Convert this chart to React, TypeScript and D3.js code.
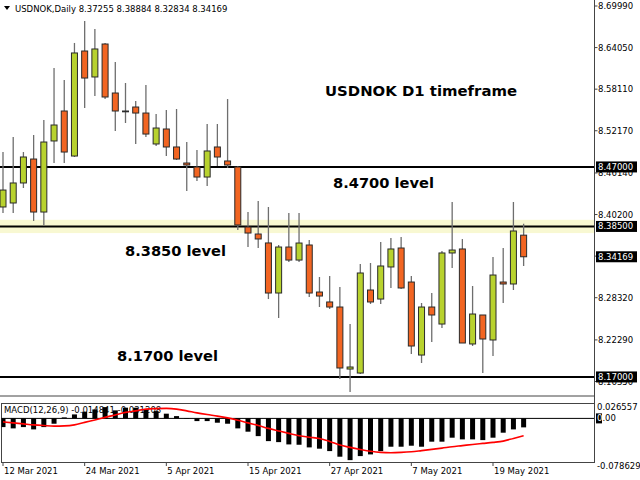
import React from "react";
import * as d3 from "d3";

const openP = [8.4128,8.4185,8.4471,8.4813,8.4056,8.5071,8.5499,8.4856,8.6356,8.5985,8.6456,8.5756,8.5499,8.5556,8.5470,8.5028,8.5242,8.4985,8.4756,8.4699,8.4556,8.4985,8.4785,8.4699,8.3842,8.3742,8.3614,8.2899,8.3556,8.3370,8.3585,8.2913,8.2771,8.2699,8.1813,8.1756,8.2942,8.2813,8.3271,8.3542,8.3056,8.2013,8.2699,8.2456,8.3471,8.3528,8.2171,8.2585,8.2228,8.3056,8.3028,8.37255];
const highP = [8.4913,8.5128,8.4913,8.5156,8.5370,8.6113,8.5942,8.6471,8.6785,8.6670,8.6471,8.6199,8.5899,8.5642,8.5870,8.5456,8.5513,8.5528,8.5056,8.4942,8.5313,8.5313,8.5670,8.4713,8.4056,8.4213,8.4128,8.3585,8.4042,8.4042,8.3656,8.3128,8.3142,8.2985,8.2456,8.3313,8.3328,8.3628,8.3685,8.3699,8.3142,8.2756,8.2899,8.3499,8.4199,8.3670,8.2999,8.2585,8.3413,8.3542,8.4199,8.38884];
const lowP = [8.4042,8.4042,8.4399,8.3928,8.3871,8.4756,8.4756,8.4842,8.5542,8.5713,8.5670,8.5213,8.5328,8.5028,8.5128,8.4999,8.4856,8.4799,8.4356,8.4499,8.4428,8.4713,8.4685,8.3799,8.3556,8.3542,8.2813,8.2542,8.3342,8.3342,8.2842,8.2699,8.2671,8.1671,8.1485,8.1742,8.2742,8.2742,8.2971,8.2956,8.2028,8.1899,8.2199,8.2399,8.3256,8.2185,8.2142,8.1756,8.2000,8.2756,8.2942,8.32834];
const closeP = [8.4370,8.4471,8.4842,8.4056,8.5056,8.5299,8.4913,8.6328,8.5970,8.6385,8.5699,8.5499,8.5492,8.5470,8.5170,8.5256,8.4985,8.4813,8.4728,8.4556,8.4928,8.4842,8.4728,8.3871,8.3756,8.3671,8.2899,8.3556,8.3370,8.3613,8.2899,8.2856,8.2699,8.1828,8.1842,8.3185,8.2771,8.3285,8.3528,8.2971,8.2142,8.2699,8.2585,8.3471,8.3513,8.2185,8.2599,8.2242,8.3156,8.3028,8.3785,8.34169];

const macdHist = [-0.0155,-0.0178,-0.0155,-0.0196,-0.0155,-0.0095,0.0018,0.0071,0.0119,0.0160,0.0201,0.0143,0.0191,0.0191,0.0160,0.0130,0.0084,0.0041,-0.0009,-0.0048,-0.0048,-0.0077,-0.0095,-0.0178,-0.0237,-0.0316,-0.0405,-0.0423,-0.0464,-0.0470,-0.0517,-0.0540,-0.0583,-0.0683,-0.0744,-0.0672,-0.0642,-0.0583,-0.0505,-0.0505,-0.0487,-0.0505,-0.0415,-0.0415,-0.0344,-0.0374,-0.0374,-0.0387,-0.0344,-0.0255,-0.0196,-0.0160];
const macdSignal = [-0.0062,-0.0080,-0.0098,-0.0116,-0.0128,-0.0137,-0.0134,-0.0116,-0.0071,-0.0027,0.0018,0.0062,0.0107,0.0134,0.0166,0.0175,0.0178,0.0166,0.0134,0.0098,0.0068,0.0041,0.0009,-0.0032,-0.0080,-0.0125,-0.0178,-0.0223,-0.0267,-0.0308,-0.0335,-0.0357,-0.0410,-0.0476,-0.0517,-0.0553,-0.0585,-0.0606,-0.0612,-0.0606,-0.0594,-0.0574,-0.0553,-0.0530,-0.0505,-0.0485,-0.0464,-0.0446,-0.0428,-0.0405,-0.0357,-0.0308];

const dateLabels = ["12 Mar 2021","24 Mar 2021","5 Apr 2021","15 Apr 2021","27 Apr 2021","7 May 2021","19 May 2021"];
const dateIndex = [0,8,16,24,32,40,48];
const priceTicks = ["8.69990","8.64050","8.58110","8.52170","8.46140","8.40200","8.34260","8.28320","8.22290","8.16350"];
const levelPrices = [8.47, 8.385, 8.17];
const levelTexts = ["8.4700 level", "8.3850 level", "8.1700 level"];
const markedPrices = ["8.47000", "8.38500", "8.34169", "8.17000"];
const macdTicks = ["0.026557", "-0.078629"];
const headerText = "USDNOK,Daily 8.37255 8.38884 8.32834 8.34169";
const macdLabel = "MACD(12,26,9) -0.014841 -0.031208";
const titleText = "USDNOK D1 timeframe";

const GREEN = "#b8d22e";
const RED = "#f26522";
const FONT = "'DejaVu Sans', Verdana, sans-serif";

export default function App() {
  const AX = 594.5;
  const x = d3.scaleLinear().domain([0, 48]).range([3, 493]);
  const y = d3.scaleLinear().domain([8.6999, 8.1635]).range([6, 381.5]);
  const ym = d3.scaleLinear().domain([0.026557, -0.078629]).range([403.5, 462.5]);
  const bw = 6;

  const signalLine = d3.line<number>()
    .x((_, i) => x(i))
    .y((v) => ym(v))
    .curve(d3.curveMonotoneX);

  const levelTextPos = [[333, 188], [125, 256], [117, 361]];

  return (
    <svg width={640} height={480} style={{ position: "fixed", left: 0, top: 0, background: "#fff" }} fontFamily={FONT}>
      <defs>
        <clipPath id="main"><rect x={0} y={0} width={AX} height={396} /></clipPath>
        <clipPath id="macd"><rect x={1.5} y={403.5} width={AX - 1.5} height={59} /></clipPath>
      </defs>
      <rect x={0} y={0} width={640} height={480} fill="#fff" />

      {/* band around 8.385 */}
      <rect x={0} y={y(8.3945)} width={AX} height={y(8.3755) - y(8.3945)} fill="#f8f8d2" />

      {/* level lines */}
      {levelPrices.map((p, i) => (
        <line key={"lv" + i} x1={0} x2={AX} y1={y(p)} y2={y(p)} stroke="#000" strokeWidth={2} />
      ))}

      {/* candles */}
      <g clipPath="url(#main)">
        {openP.map((o, i) => {
          const c = closeP[i];
          const up = c >= o;
          const top = y(Math.max(o, c));
          const bot = y(Math.min(o, c));
          const h = Math.max(bot - top, 0.8);
          return (
            <g key={"c" + i}>
              <line x1={x(i)} x2={x(i)} y1={y(highP[i])} y2={y(lowP[i])} stroke="#6e6e6e" strokeWidth={1.3} />
              <rect x={x(i) - bw / 2} y={top} width={bw} height={h} fill={up ? GREEN : RED} stroke="#2a2a2a" strokeWidth={1} />
            </g>
          );
        })}
      </g>

      {/* header */}
      <path d="M4,6 L10,6 L7,10 Z" fill="#000" />
      <text x={15} y={11.5} fontSize={8.5} fill="#000">{headerText}</text>

      {/* annotations */}
      <text x={325} y={96} fontSize={14} fontWeight="bold" textLength={192} lengthAdjust="spacingAndGlyphs" fill="#000">{titleText}</text>
      {levelTexts.map((t, i) => (
        <text key={"lt" + i} x={levelTextPos[i][0]} y={levelTextPos[i][1]} fontSize={14} fontWeight="bold" textLength={101} lengthAdjust="spacingAndGlyphs" fill="#000">{t}</text>
      ))}

      {/* main frame bottom */}
      <line x1={0} x2={AX} y1={396} y2={396} stroke="#444" strokeWidth={1} />

      {/* MACD panel */}
      <rect x={1.5} y={403.5} width={AX - 1.5} height={59} fill="#fff" stroke="#444" strokeWidth={1} />
      <line x1={1.5} x2={AX} y1={ym(0)} y2={ym(0)} stroke="#000" strokeWidth={1} />
      <text x={4} y={412.5} fontSize={8.5} fill="#000">{macdLabel}</text>
      <g clipPath="url(#macd)">
        {macdHist.map((v, i) => (
          <rect key={"h" + i} x={x(i) - 2.5} y={Math.min(ym(v), ym(0))} width={5} height={Math.abs(ym(v) - ym(0))} fill="#000" />
        ))}
        <path d={signalLine(macdSignal) || ""} fill="none" stroke="#ff0000" strokeWidth={1.6} />
      </g>

      {/* right axis */}
      <line x1={AX} x2={AX} y1={0} y2={463} stroke="#444" strokeWidth={1} />
      {priceTicks.map((t, i) => (
        <g key={"pt" + i}>
          <line x1={AX} x2={AX + 3} y1={y(+t)} y2={y(+t)} stroke="#444" />
          <text x={598} y={y(+t) + 3} fontSize={8.5} fill="#000">{t}</text>
        </g>
      ))}
      {markedPrices.map((t, i) => (
        <g key={"mp" + i}>
          <rect x={596} y={y(+t) - 5.5} width={41} height={11} fill="#000" />
          <text x={598} y={y(+t) + 3} fontSize={8.5} fill="#fff">{t}</text>
        </g>
      ))}
      {macdTicks.map((t, i) => (
        <text key={"mt" + i} x={597} y={ym(+t) + 6} fontSize={8.5} fill="#000">{t}</text>
      ))}
      <rect x={596} y={ym(0) - 5} width={6} height={10} fill="#000" />
      <text x={597} y={ym(0) + 3} fontSize={8.5} fill="#000"><tspan fill="#fff">0</tspan>.00</text>

      {/* bottom axis */}
      {dateLabels.map((d, i) => (
        <g key={"d" + i}>
          <line x1={x(dateIndex[i])} x2={x(dateIndex[i])} y1={463} y2={466} stroke="#444" />
          <text x={x(dateIndex[i]) + 1} y={474} fontSize={8.5} fill="#000">{d}</text>
        </g>
      ))}
    </svg>
  );
}
